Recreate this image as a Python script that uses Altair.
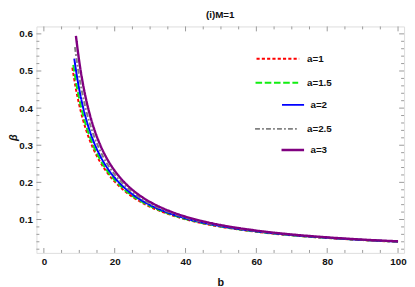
import altair as alt
import pandas as pd

FONT = "Liberation Sans"

series_names = ["a=1", "a=1.5", "a=2", "a=2.5", "a=3"]
series_colors = ["#ff0000", "#11ee11", "#0000ff", "#808080", "#800080"]
series_dash = [[3.2, 2.2], [6.7, 2.7], [1, 0], [5, 2.2, 1.8, 2.2], [1, 0]]
series_width = [2.0, 2.0, 2.0, 2.0, 2.4]

b_a1 = [8.05, 9, 10, 11, 12, 13, 14, 16, 18, 20, 23, 26, 30, 35, 40, 45, 50, 60, 70, 80, 90, 100]
beta_a1 = [0.509, 0.4543, 0.408, 0.3702, 0.3389, 0.3124, 0.2898, 0.2531, 0.2247, 0.202, 0.1754,
           0.155, 0.1342, 0.115, 0.1005, 0.0893, 0.0803, 0.0669, 0.0573, 0.0501, 0.0445, 0.0401]

b_a15 = [8.3, 9, 10, 11, 12, 13, 14, 16, 18, 20, 23, 26, 30, 35, 40, 45, 50, 60, 70, 80, 90, 100]
beta_a15 = [0.5167, 0.474, 0.424, 0.3834, 0.35, 0.3219, 0.2979, 0.2594, 0.2296, 0.206, 0.1784,
            0.1573, 0.136, 0.1163, 0.1015, 0.0901, 0.081, 0.0674, 0.0576, 0.0504, 0.0447, 0.0402]

b_a2 = [8.59, 9, 10, 11, 12, 13, 14, 16, 18, 20, 23, 26, 30, 35, 40, 45, 50, 60, 70, 80, 90, 100]
beta_a2 = [0.5335, 0.5061, 0.45, 0.4049, 0.368, 0.3373, 0.3112, 0.2695, 0.2376, 0.2125, 0.1834,
           0.1612, 0.1389, 0.1184, 0.1031, 0.0914, 0.082, 0.0681, 0.0581, 0.0508, 0.045, 0.0405]

b_a25 = [8.78, 9, 10, 11, 12, 13, 14, 16, 18, 20, 23, 26, 30, 35, 40, 45, 50, 60, 70, 80, 90, 100]
beta_a25 = [0.5645, 0.5481, 0.484, 0.433, 0.3916, 0.3574, 0.3286, 0.2828, 0.2481, 0.221, 0.1898,
            0.1662, 0.1426, 0.1212, 0.1053, 0.093, 0.0834, 0.069, 0.0588, 0.0513, 0.0454, 0.0408]

b_a3 = [9.05, 10, 11, 12, 13, 14, 16, 18, 20, 23, 26, 30, 35, 40, 45, 50, 60, 70, 80, 90, 100]
beta_a3 = [0.5946, 0.525, 0.4669, 0.4201, 0.3817, 0.3495, 0.2988, 0.2608, 0.2313, 0.1975,
           0.1723, 0.1472, 0.1245, 0.1078, 0.0951, 0.085, 0.0702, 0.0597, 0.052, 0.0459, 0.0413]

x_major = [0, 20, 40, 60, 80, 100]
x_minor = [5, 10, 15, 25, 30, 35, 45, 50, 55, 65, 70, 75, 85, 90, 95]
y_major = [0.1, 0.2, 0.3, 0.4, 0.5, 0.6]
y_minor = [0.02, 0.04, 0.06, 0.08, 0.12, 0.14, 0.16, 0.18, 0.22, 0.24, 0.26, 0.28,
           0.32, 0.34, 0.36, 0.38, 0.42, 0.44, 0.46, 0.48, 0.52, 0.54, 0.56, 0.58]

W, H = 375, 231
FRAME = "#9a9a9a"

xs = alt.Scale(domain=[-2.1, 101.7], nice=False, zero=False)
ys = alt.Scale(domain=[0.010, 0.620], nice=False, zero=False)

xaxis = alt.Axis(values=x_major, format="d", title="b", domain=False, ticks=False, grid=False,
                 labelFont=FONT, labelFontSize=10, labelFontWeight="bold", labelColor="#111",
                 labelPadding=4, titleFont=FONT, titleFontSize=11, titleFontWeight="bold",
                 titleColor="#111", titlePadding=10)
yaxis = alt.Axis(values=y_major, format=".1f", title="β", domain=False, ticks=False, grid=False,
                 labelFont=FONT, labelFontSize=10, labelFontWeight="bold", labelColor="#111",
                 labelPadding=4, titleFont=FONT, titleFontSize=11, titleFontWeight="bold",
                 titleFontStyle="italic", titleColor="#111", titleAngle=-90,
                 titleX=-29, titleY=113, titleAlign="center", titleBaseline="top")

curves = [(b_a1, beta_a1), (b_a15, beta_a15), (b_a2, beta_a2), (b_a25, beta_a25), (b_a3, beta_a3)]

layers = []
for i, (bb, vv) in enumerate(curves):
    df = pd.DataFrame({"b": bb, "beta": vv})
    layers.append(
        alt.Chart(df).mark_line(color=series_colors[i], strokeDash=series_dash[i],
                                strokeWidth=series_width[i], interpolate="monotone", clip=True)
        .encode(x=alt.X("b:Q", scale=xs, axis=xaxis), y=alt.Y("beta:Q", scale=ys, axis=yaxis))
    )

# frame ticks (pointing inward, on all four sides)
def xticks(vals, length):
    df = pd.DataFrame({"b": vals})
    bottom = alt.Chart(df).mark_rule(color=FRAME, strokeWidth=1).encode(
        x=alt.X("b:Q", scale=xs, axis=xaxis), y=alt.value(H), y2=alt.value(H - length))
    top = alt.Chart(df).mark_rule(color=FRAME, strokeWidth=1).encode(
        x=alt.X("b:Q", scale=xs, axis=xaxis), y=alt.value(0), y2=alt.value(length))
    return [bottom, top]

def yticks(vals, length):
    df = pd.DataFrame({"beta": vals})
    left = alt.Chart(df).mark_rule(color=FRAME, strokeWidth=1).encode(
        y=alt.Y("beta:Q", scale=ys, axis=yaxis), x=alt.value(0), x2=alt.value(length))
    right = alt.Chart(df).mark_rule(color=FRAME, strokeWidth=1).encode(
        y=alt.Y("beta:Q", scale=ys, axis=yaxis), x=alt.value(W), x2=alt.value(W - length))
    return [left, right]

tick_layers = xticks(x_major, 5) + xticks(x_minor, 3) + yticks(y_major, 5) + yticks(y_minor, 3)

# legend drawn inside the frame
leg_y = [33, 57.5, 80, 104.5, 126]
leg_x1 = [224.5, 223.5, 250.5, 223, 250]
leg_x2 = [268, 267, 273, 266, 273]
leg_tx = [276, 276, 279.5, 276, 279.5]
leg_layers = []
dummy = pd.DataFrame({"k": [0]})
for i, name in enumerate(series_names):
    leg_layers.append(
        alt.Chart(dummy).mark_rule(color=series_colors[i], strokeDash=series_dash[i],
                                   strokeWidth=series_width[i])
        .encode(x=alt.value(leg_x1[i]), x2=alt.value(leg_x2[i]), y=alt.value(leg_y[i]))
    )
    leg_layers.append(
        alt.Chart(dummy).mark_text(text=name, align="left", baseline="middle", font=FONT,
                                   fontSize=10, fontWeight="bold", color="#111")
        .encode(x=alt.value(leg_tx[i]), y=alt.value(leg_y[i]))
    )

chart = alt.layer(*layers, *tick_layers, *leg_layers).properties(
    width=W, height=H,
    title=alt.TitleParams("(i)M=1", font=FONT, fontSize=10, fontWeight="bold", color="#111",
                          anchor="middle", offset=6),
    autosize=alt.AutoSizeParams(type="none"),
    padding={"left": 29, "top": 16, "right": 3, "bottom": 34},
).configure_view(stroke=FRAME, strokeWidth=1).configure(background="white")

chart.save("out.html", embed_options={"renderer": "svg", "actions": False})
